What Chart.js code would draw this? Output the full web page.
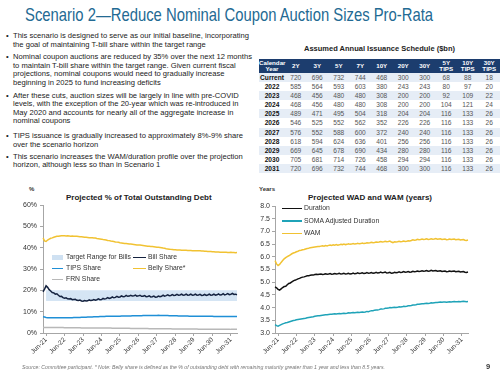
<!DOCTYPE html>
<html><head><meta charset="utf-8">
<script src="https://cdn.jsdelivr.net/npm/chart.js@4.4.1/dist/chart.umd.min.js"></script>
<style>
html,body{margin:0;padding:0;background:#fff;}
body{width:500px;height:375px;position:relative;overflow:hidden;font-family:"Liberation Sans",Arial,sans-serif;color:#222;}
#title{position:absolute;left:25px;top:4px;font-family:"Liberation Sans Narrow","Liberation Sans",Arial,sans-serif;font-size:19px;line-height:22px;color:#236a93;white-space:nowrap;transform-origin:0 0;}
.bl{position:absolute;left:13px;font-size:7.6px;line-height:8.6px;white-space:nowrap;color:#222;}
.bl:before{content:"\2022";position:absolute;left:-7px;top:0;}
#ttl{position:absolute;left:259px;top:44px;width:241px;text-align:center;font-weight:bold;font-size:7.5px;color:#222;}
#tbl{position:absolute;left:259px;top:59px;border-collapse:collapse;table-layout:fixed;width:241px;font-size:6.6px;}
#tbl th{background:#1c3d6e;color:#fff;font-weight:bold;height:14px;padding:0;line-height:6.5px;text-align:center;font-size:6.2px;}
#tbl td{height:9.1px;padding:0;text-align:center;color:#555;line-height:9.1px;}
#tbl td.yr{font-weight:bold;color:#111;}
#tbl tr.odd td{background:#e6edf6;}
.ct{position:absolute;font-weight:bold;font-size:8px;color:#222;white-space:nowrap;}
.ul{position:absolute;font-size:6px;font-weight:bold;color:#333;}
.cv{position:absolute;top:195px;}
.lg{position:absolute;font-size:6.8px;color:#333;white-space:nowrap;line-height:8px;}
.ln{position:absolute;height:1.6px;}
#foot{position:absolute;left:22px;top:364px;font-size:5.2px;font-style:italic;color:#777;white-space:nowrap;}
#pg{position:absolute;left:486px;top:362px;font-size:7.5px;font-weight:bold;color:#333;}
</style></head>
<body>
<div id="title">Scenario 2—Reduce Nominal Coupon Auction Sizes Pro-Rata</div>

<div class="bl" style="top:32px">This scenario is designed to serve as our initial baseline, incorporating<br>the goal of maintaining T-bill share within the target range</div>
<div class="bl" style="top:53px">Nominal coupon auctions are reduced by 35% over the next 12 months<br>to maintain T-bill share within the target range. Given current fiscal<br>projections, nominal coupons would need to gradually increase<br>beginning in 2025 to fund increasing deficits</div>
<div class="bl" style="top:91.5px">After these cuts, auction sizes will be largely in line with pre-COVID<br>levels, with the exception of the 20-year which was re-introduced in<br>May 2020 and accounts for nearly all of the aggregate increase in<br>nominal coupons</div>
<div class="bl" style="top:132px">TIPS issuance is gradually increased to approximately 8%-9% share<br>over the scenario horizon</div>
<div class="bl" style="top:152.5px">This scenario increases the WAM/duration profile over the projection<br>horizon, although less so than in Scenario 1</div>

<div id="ttl">Assumed Annual Issuance Schedule ($bn)</div>
<table id="tbl"></table>

<div class="ul" style="left:29px;top:186px">%</div>
<div class="ct" style="left:66px;top:193px">Projected % of Total Outstanding Debt</div>
<canvas id="c1" class="cv" width="250" height="170" style="left:0px"></canvas>

<div class="ul" style="left:259px;top:186px">Years</div>
<div class="ct" style="left:308px;top:193px">Projected WAD and WAM (years)</div>
<canvas id="c2" class="cv" width="250" height="170" style="left:250px"></canvas>

<div class="ln" style="left:52px;top:255px;width:11px;height:5px;background:#cfe1f2"></div>
<div class="lg" style="left:66px;top:253px">Target Range for Bills</div>
<div class="ln" style="left:133px;top:256.5px;width:13px;background:#14223f"></div>
<div class="lg" style="left:148px;top:253px">Bill Share</div>
<div class="ln" style="left:52px;top:267.5px;width:11px;background:#1f8fd6"></div>
<div class="lg" style="left:66px;top:264px">TIPS Share</div>
<div class="ln" style="left:133px;top:267.5px;width:13px;background:#f1c232"></div>
<div class="lg" style="left:148px;top:264px">Belly Share*</div>
<div class="ln" style="left:52px;top:278.5px;width:11px;background:#b8b8b8"></div>
<div class="lg" style="left:66px;top:275px">FRN Share</div>

<div class="ln" style="left:282px;top:207.5px;width:20px;background:#111"></div>
<div class="lg" style="left:304px;top:204px">Duration</div>
<div class="ln" style="left:282px;top:220px;width:20px;background:#1fa3b8"></div>
<div class="lg" style="left:304px;top:216.5px">SOMA Adjusted Duration</div>
<div class="ln" style="left:282px;top:232.5px;width:20px;background:#f1c232"></div>
<div class="lg" style="left:304px;top:229px">WAM</div>

<div id="foot">Source: Committee participant. * Note: Belly share is defined as the % of outstanding debt with remaining maturity greater than 1 year and less than 8.5 years.</div>
<div id="pg">9</div>

<script>
// ---- Table data ----
const tableYears = ['Current','2022','2023','2024','2025','2026','2027','2028','2029','2030','2031'];
const tenors = ['2Y','3Y','5Y','7Y','10Y','20Y','30Y','5Y<br>TIPS','10Y<br>TIPS','30Y<br>TIPS'];
const issuance = [
  [720,696,732,744,468,300,300,68,88,18],
  [585,564,593,603,380,243,243,80,97,20],
  [468,456,480,480,308,200,200,92,109,22],
  [468,456,480,480,308,200,200,104,121,24],
  [489,471,495,504,318,204,204,116,133,26],
  [546,525,552,562,352,226,226,116,133,26],
  [576,552,588,600,372,240,240,116,133,26],
  [618,594,624,636,401,256,256,116,133,26],
  [669,645,678,690,434,280,280,116,133,26],
  [705,681,714,726,458,294,294,116,133,26],
  [720,696,732,744,468,300,300,116,133,26]
];

// ---- Chart categories (monthly, Apr-21 .. Oct-31) ----
const monthNames = ['Jan','Feb','Mar','Apr','May','Jun','Jul','Aug','Sep','Oct','Nov','Dec'];
const startYear = 2021, startMonth = 3, nMonths = 127;
const yearTicks = ['Jun-21','Jun-22','Jun-23','Jun-24','Jun-25','Jun-26','Jun-27','Jun-28','Jun-29','Jun-30','Jun-31'];
const billTargetRange = [15, 20];
const bandStart = 'Jun-21';

// ---- Left chart: % of total outstanding debt ----
const billShare = [
  19.3,20.6,22.1,21.4,20.3,19.7,19.0,18.8,18.2,
  18.4,17.7,17.1,17.2,16.6,16.3,16.5,16.0,15.9,16.1,15.6,15.7,
  15.8,15.3,15.2,15.4,15.0,14.9,15.2,15.0,15.1,15.5,15.2,15.3,
  15.7,15.4,15.6,16.0,15.6,15.7,16.2,15.9,16.1,16.6,16.2,16.4,
  16.9,16.5,16.7,17.2,16.8,16.9,17.4,17.0,17.1,17.6,17.2,17.3,
  17.7,17.3,17.4,17.8,17.3,17.4,17.7,17.2,17.2,17.5,17.0,17.1,
  17.4,16.9,17.0,17.3,16.8,16.9,17.3,17.0,17.2,17.7,17.3,17.5,
  17.9,17.5,17.6,18.0,17.6,17.7,18.1,17.7,17.8,18.2,17.7,17.8,
  18.2,17.7,17.8,18.2,17.7,17.8,18.2,17.7,17.8,18.1,17.6,17.7,
  18.1,17.6,17.8,18.2,17.7,17.8,18.2,17.7,17.9,18.3,17.8,17.9,
  18.4,17.9,18.1,18.5,18.0,18.1,18.6,18.1,18.2,17.9
];
const tipsShare = [
  7.6,7.5,7.3,7.2,7.2,7.2,7.1,7.1,7.1,
  7.1,7.1,7.1,7.1,7.1,7.1,7.2,7.2,7.2,7.2,7.2,7.3,
  7.3,7.3,7.3,7.3,7.4,7.4,7.4,7.4,7.5,7.5,7.5,7.5,
  7.6,7.6,7.6,7.6,7.7,7.7,7.7,7.7,7.8,7.8,7.8,7.8,
  7.8,7.9,7.9,7.9,7.9,7.9,8.0,8.0,8.0,8.0,8.0,8.0,
  8.0,8.1,8.1,8.1,8.1,8.1,8.1,8.1,8.2,8.2,8.2,8.2,
  8.2,8.2,8.2,8.2,8.2,8.2,8.3,8.2,8.2,8.2,8.2,8.2,
  8.2,8.1,8.1,8.1,8.1,8.1,8.1,8.0,8.0,8.0,8.0,8.0,
  8.0,8.0,7.9,7.9,7.9,7.9,7.9,7.9,7.9,7.9,7.8,7.8,
  7.8,7.8,7.8,7.8,7.8,7.8,7.7,7.7,7.7,7.7,7.7,7.7,
  7.7,7.7,7.7,7.7,7.7,7.7,7.7,7.7,7.7,7.7
];
const frnShare = [
  2.6,2.6,2.6,2.6,2.6,2.6,2.6,2.6,2.6,
  2.6,2.6,2.6,2.6,2.6,2.5,2.5,2.5,2.5,2.5,2.5,2.5,
  2.5,2.5,2.5,2.5,2.4,2.4,2.4,2.4,2.4,2.4,2.4,2.4,
  2.4,2.3,2.3,2.3,2.3,2.3,2.3,2.3,2.3,2.3,2.3,2.3,
  2.2,2.2,2.2,2.2,2.2,2.2,2.2,2.2,2.2,2.2,2.2,2.2,
  2.1,2.1,2.1,2.1,2.1,2.1,2.1,2.1,2.1,2.1,2.1,2.1,
  2.0,2.0,2.0,2.0,2.0,2.0,2.0,2.0,2.0,2.0,2.0,2.0,
  2.0,2.0,2.0,1.9,1.9,1.9,1.9,1.9,1.9,1.9,1.9,1.9,
  1.9,1.9,1.9,1.9,1.9,1.9,1.9,1.9,1.8,1.8,1.8,1.8,
  1.8,1.8,1.8,1.8,1.8,1.8,1.8,1.8,1.8,1.8,1.8,1.8,
  1.8,1.8,1.8,1.8,1.8,1.7,1.7,1.7,1.7,1.7
];
const bellyShare = [
  44.6,43.2,42.9,43.6,44.0,44.4,44.6,44.9,45.1,
  45.3,45.4,45.5,45.6,45.6,45.6,45.5,45.6,45.5,45.4,45.5,45.4,
  45.3,45.3,45.2,45.1,45.1,45.0,44.9,44.9,44.8,44.7,44.7,44.6,
  44.5,44.5,44.3,44.2,44.1,44.0,43.8,43.7,43.6,43.4,43.3,43.1,
  43.0,42.9,42.7,42.6,42.5,42.3,42.2,42.1,42.0,41.9,41.8,41.7,
  41.7,41.6,41.5,41.4,41.3,41.3,41.2,41.1,41.0,40.9,40.8,40.7,
  40.7,40.6,40.5,40.4,40.3,40.2,40.2,40.1,40.0,39.8,39.7,39.5,
  39.4,39.3,39.2,39.1,39.0,39.0,38.9,38.9,38.9,38.8,38.8,38.8,
  38.8,38.7,38.7,38.7,38.6,38.6,38.6,38.6,38.5,38.5,38.4,38.4,
  38.3,38.3,38.2,38.2,38.2,38.1,38.1,38.0,38.0,38.0,37.9,37.9,
  37.9,37.8,37.8,37.7,37.7,37.8,37.7,37.7,37.6,37.7
];

// ---- Right chart: WAD and WAM (years) ----
const duration = [
  4.82,4.78,4.72,4.69,4.74,4.79,4.83,4.84,4.90,
  4.95,4.97,5.01,5.05,5.08,5.10,5.13,5.15,5.18,5.20,5.21,5.23,
  5.25,5.25,5.27,5.28,5.28,5.30,5.31,5.30,5.31,5.32,5.30,5.31,
  5.33,5.31,5.32,5.34,5.31,5.32,5.34,5.32,5.33,5.35,5.32,5.33,
  5.35,5.32,5.33,5.35,5.32,5.33,5.36,5.33,5.34,5.37,5.34,5.35,
  5.37,5.34,5.35,5.38,5.35,5.36,5.38,5.35,5.36,5.39,5.36,5.37,
  5.40,5.37,5.38,5.40,5.36,5.37,5.39,5.35,5.36,5.39,5.37,5.38,
  5.41,5.38,5.39,5.42,5.39,5.40,5.42,5.39,5.40,5.43,5.41,5.42,
  5.44,5.42,5.43,5.45,5.43,5.44,5.46,5.43,5.44,5.47,5.44,5.45,
  5.46,5.43,5.44,5.45,5.42,5.43,5.44,5.41,5.42,5.44,5.42,5.43,
  5.44,5.41,5.42,5.43,5.40,5.41,5.42,5.39,5.38,5.40
];
const somaDuration = [
  3.33,3.29,3.27,3.30,3.33,3.36,3.38,3.40,3.41,
  3.43,3.45,3.47,3.49,3.50,3.52,3.53,3.54,3.55,3.56,3.57,3.58,
  3.60,3.61,3.62,3.63,3.64,3.66,3.67,3.68,3.68,3.69,3.70,3.71,
  3.72,3.72,3.73,3.74,3.74,3.75,3.76,3.75,3.76,3.77,3.76,3.77,
  3.78,3.77,3.78,3.80,3.79,3.80,3.81,3.80,3.81,3.82,3.81,3.82,
  3.83,3.82,3.83,3.85,3.84,3.86,3.88,3.88,3.90,3.91,3.91,3.92,
  3.94,3.94,3.95,3.97,3.97,3.98,4.00,3.99,4.00,4.01,4.00,4.01,
  4.03,4.02,4.03,4.05,4.04,4.05,4.07,4.07,4.08,4.10,4.10,4.11,
  4.13,4.13,4.14,4.15,4.15,4.16,4.17,4.16,4.17,4.19,4.18,4.19,
  4.20,4.20,4.21,4.22,4.21,4.22,4.22,4.21,4.22,4.23,4.22,4.23,
  4.24,4.23,4.23,4.24,4.23,4.24,4.25,4.24,4.23,4.24
];
const wam = [
  5.85,5.72,5.66,5.70,5.78,5.85,5.92,5.97,6.01,
  6.04,6.08,6.12,6.15,6.17,6.20,6.22,6.25,6.26,6.28,6.29,6.31,
  6.33,6.34,6.36,6.37,6.38,6.39,6.40,6.41,6.41,6.42,6.43,6.42,
  6.44,6.43,6.45,6.46,6.45,6.47,6.46,6.48,6.46,6.47,6.49,6.48,
  6.50,6.48,6.49,6.51,6.49,6.50,6.52,6.50,6.51,6.53,6.51,6.52,
  6.54,6.52,6.53,6.55,6.54,6.55,6.57,6.55,6.56,6.58,6.57,6.58,
  6.60,6.58,6.59,6.61,6.59,6.60,6.62,6.58,6.56,6.59,6.58,6.59,
  6.61,6.59,6.60,6.62,6.60,6.61,6.63,6.62,6.64,6.67,6.65,6.66,
  6.69,6.67,6.68,6.70,6.68,6.69,6.71,6.68,6.69,6.71,6.69,6.70,
  6.72,6.69,6.70,6.71,6.68,6.69,6.70,6.67,6.68,6.70,6.68,6.69,
  6.70,6.67,6.68,6.69,6.66,6.67,6.68,6.65,6.64,6.66
];

// ---- Build table ----
(function(){
  const t = document.getElementById('tbl');
  let h = '<colgroup><col style="width:26px">' + tenors.map(()=> '<col style="width:21.5px">').join('') + '</colgroup>';
  h += '<tr><th>Calendar<br>Year</th>' + tenors.map(x=>'<th>'+x+'</th>').join('') + '</tr>';
  tableYears.forEach((y,i)=>{
    h += '<tr class="'+(i%2===0?'odd':'even')+'"><td class="yr">'+y+'</td>' + issuance[i].map(v=>'<td>'+v+'</td>').join('') + '</tr>';
  });
  t.innerHTML = h;
})();

// ---- Title fit ----
(function(){
  const el = document.getElementById('title');
  const w = el.getBoundingClientRect().width;
  el.style.transform = 'scaleX(' + (408 / w) + ')';
})();

// ---- Categories ----
const months = [];
for (let i = 0; i < nMonths; i++) {
  const m = (startMonth + i) % 12, y = startYear + Math.floor((startMonth + i) / 12);
  months.push(monthNames[m] + '-' + String(y).slice(2));
}
const bandIdx = months.indexOf(bandStart);
const bandLow = months.map((_, i) => i >= bandIdx ? billTargetRange[0] : null);
const bandHigh = months.map((_, i) => i >= bandIdx ? billTargetRange[1] : null);

Chart.defaults.font.family = '"Liberation Sans", Arial, sans-serif';
Chart.defaults.color = '#333';

const axisColor = '#a6a6a6';
function xScale() {
  return {
    type: 'category',
    grid: { drawOnChartArea: false, drawTicks: true, tickLength: 3, color: axisColor },
    border: { color: axisColor },
    ticks: {
      autoSkip: false, maxRotation: 45, minRotation: 45, padding: 0,
      font: { size: 6.5 }, color: '#333',
      callback: function (v) { const l = this.getLabelForValue(v); return yearTicks.includes(l) ? l : null; }
    },
    afterFit: s => { s.height = 32; }
  };
}
const common = {
  responsive: false, animation: false,
  plugins: { legend: { display: false }, tooltip: { enabled: false } },
  elements: { point: { radius: 0 }, line: { borderWidth: 1.5, tension: 0 } }
};

new Chart(document.getElementById('c1'), {
  type: 'line',
  data: {
    labels: months,
    datasets: [
      { data: billShare, borderColor: '#14223f', borderWidth: 1.5, fill: false },
      { data: tipsShare, borderColor: '#1f8fd6', borderWidth: 1.5, fill: false },
      { data: bellyShare, borderColor: '#f1c232', borderWidth: 1.5, fill: false },
      { data: frnShare, borderColor: '#b8b8b8', borderWidth: 1.5, fill: false },
      { data: bandLow, borderWidth: 0, borderColor: 'rgba(0,0,0,0)', fill: false, spanGaps: false },
      { data: bandHigh, borderWidth: 0, borderColor: 'rgba(0,0,0,0)', backgroundColor: '#d5e5f4', fill: '-1' }
    ]
  },
  options: Object.assign({}, common, {
    layout: { padding: { top: 10, right: 13, left: 0, bottom: 0 } },
    scales: {
      x: xScale(),
      y: {
        min: 0, max: 60,
        grid: { drawOnChartArea: false, drawTicks: true, tickLength: 3, color: axisColor },
        border: { color: axisColor },
        ticks: { stepSize: 10, padding: 3, font: { size: 7 }, color: '#333', callback: v => v + '%' },
        afterFit: s => { s.width = 43; }
      }
    }
  })
});

new Chart(document.getElementById('c2'), {
  type: 'line',
  data: {
    labels: months,
    datasets: [
      { data: duration, borderColor: '#111111', borderWidth: 1.5, fill: false },
      { data: somaDuration, borderColor: '#1fa3b8', borderWidth: 1.5, fill: false },
      { data: wam, borderColor: '#f1c232', borderWidth: 1.5, fill: false }
    ]
  },
  options: Object.assign({}, common, {
    layout: { padding: { top: 11, right: 32, left: 0, bottom: 0 } },
    scales: {
      x: xScale(),
      y: {
        min: 3, max: 8,
        grid: { drawOnChartArea: false, drawTicks: true, tickLength: 3, color: axisColor },
        border: { color: axisColor },
        ticks: { stepSize: 0.5, padding: 2, font: { size: 7 }, color: '#333', callback: v => Number(v).toFixed(1) },
        afterFit: s => { s.width = 25; }
      }
    }
  })
});
</script>
</body></html>
